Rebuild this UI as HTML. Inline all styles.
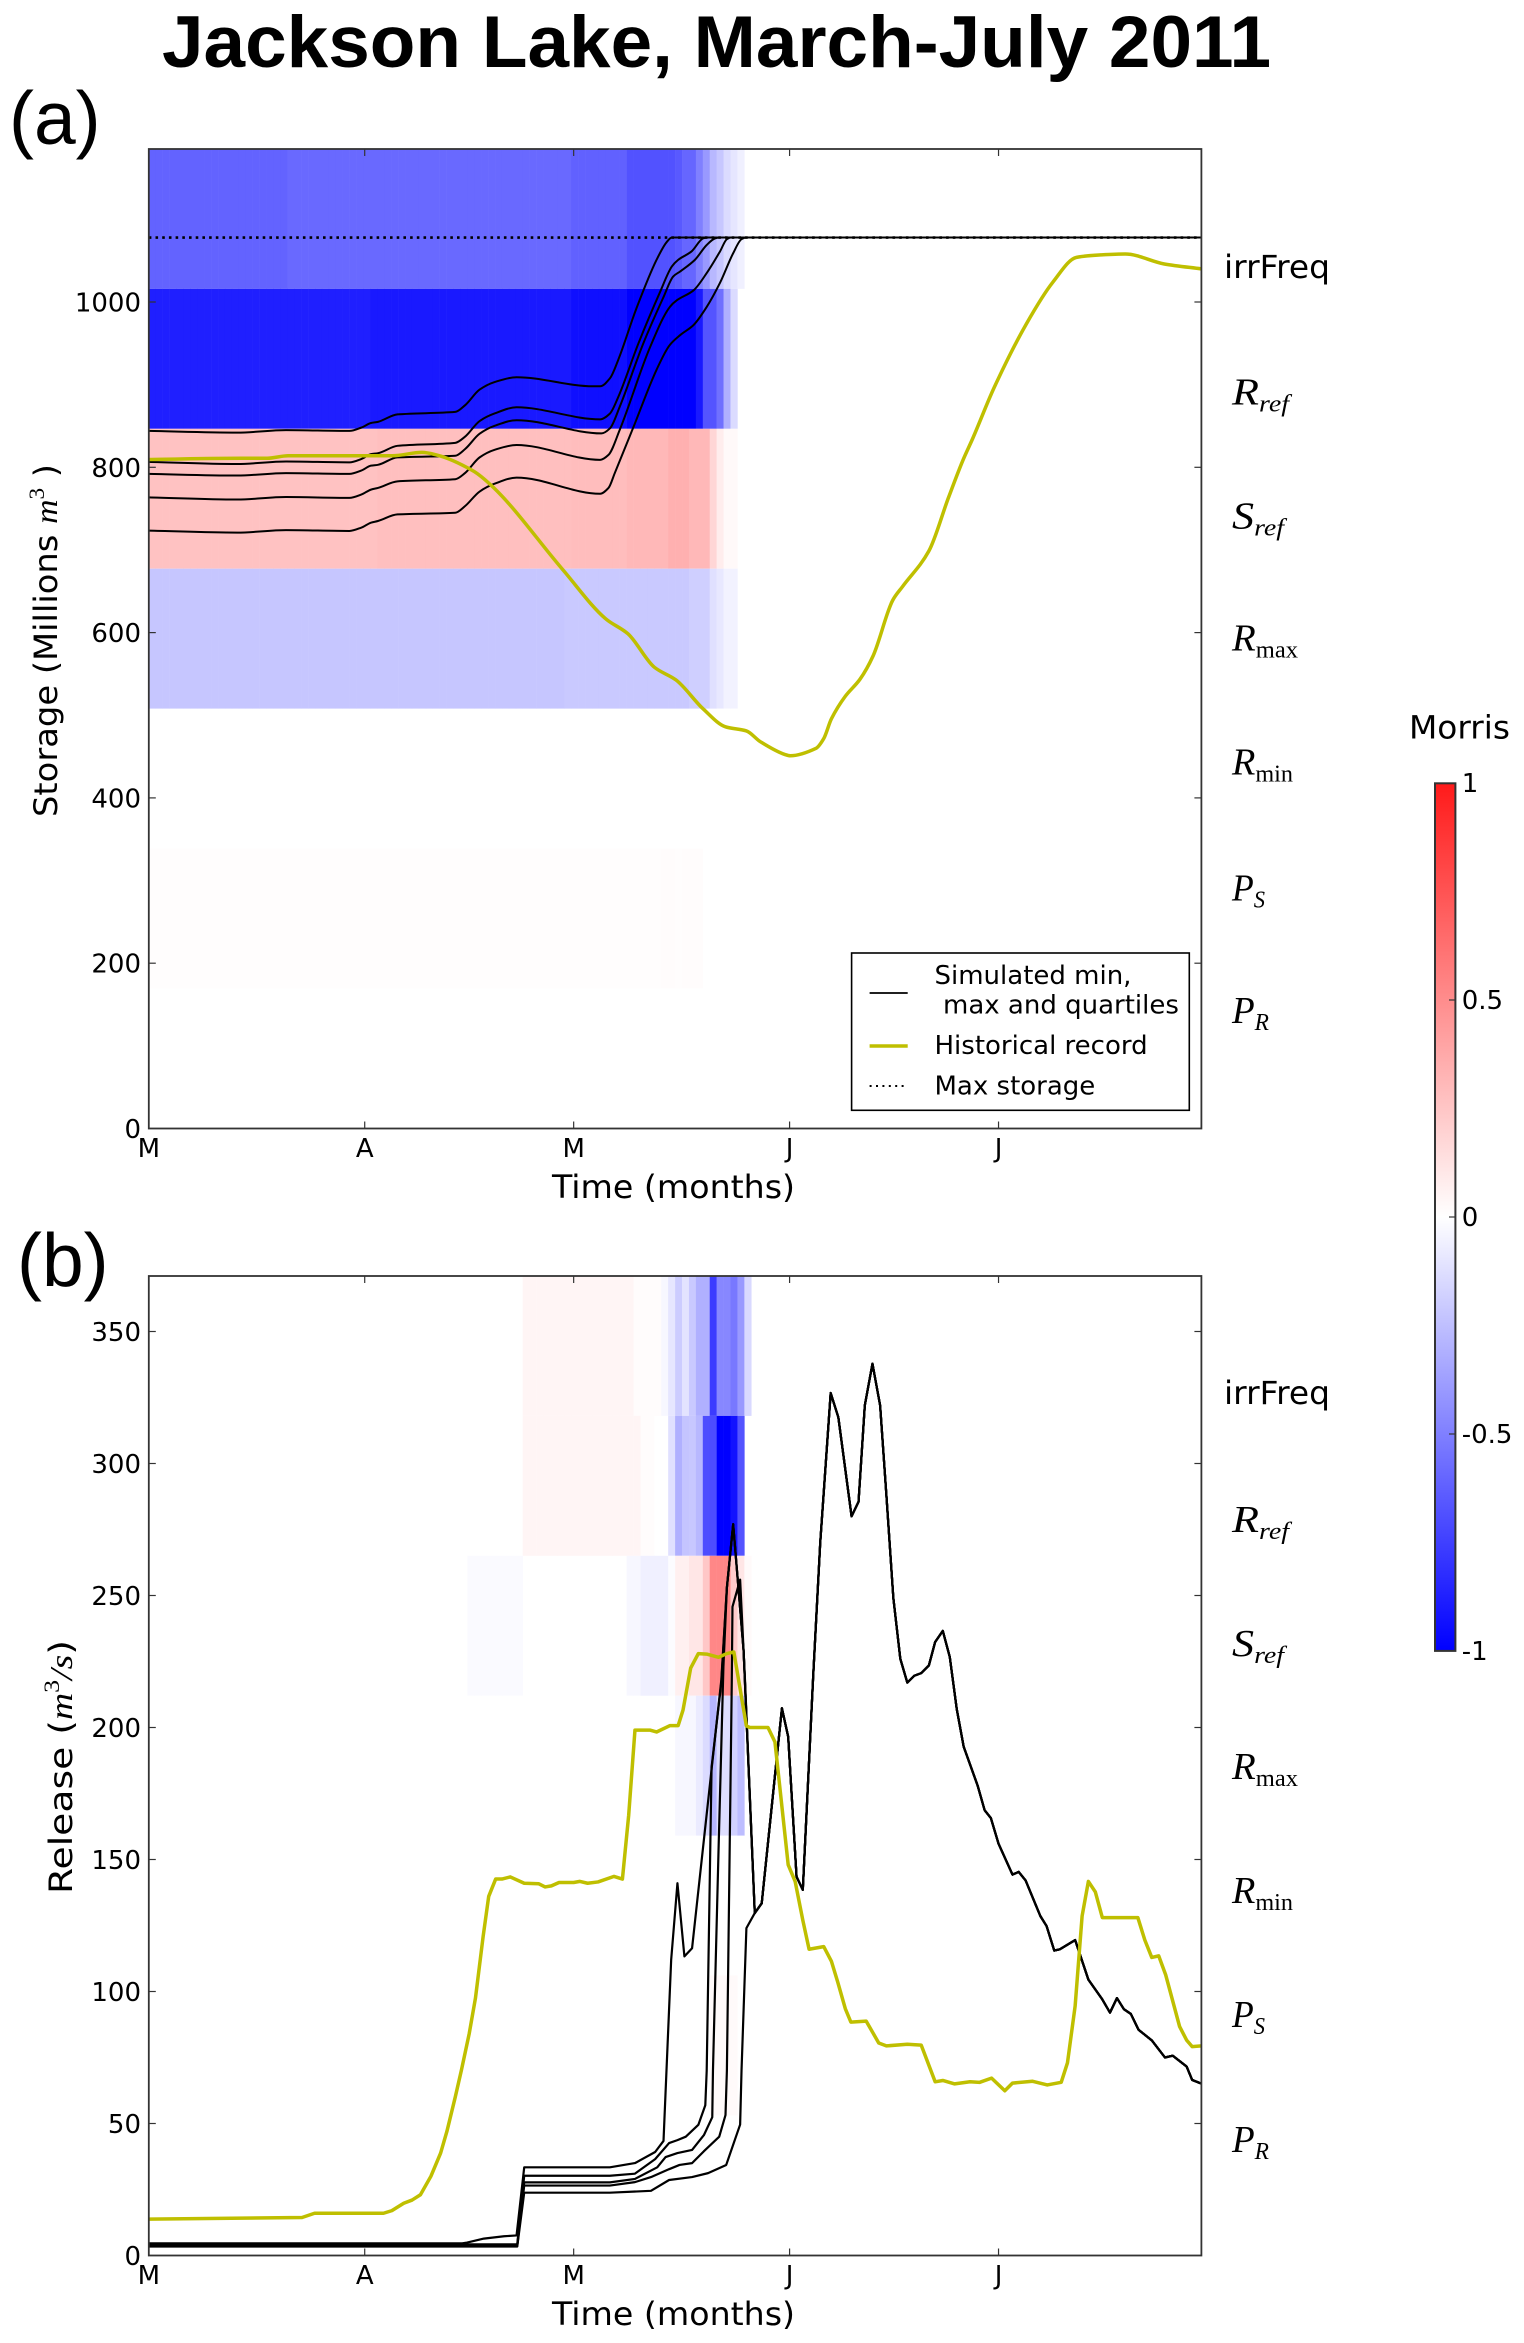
<!DOCTYPE html>
<html>
<head>
<meta charset="utf-8">
<title>Jackson Lake, March-July 2011</title>
<style>
html,body{margin:0;padding:0;background:#fff;width:1524px;height:2343px;overflow:hidden}
svg{display:block}
text{font-family:"DejaVu Sans","Liberation Sans",sans-serif;fill:#000}
.serif{font-family:"Liberation Serif",serif;font-style:italic}
.rm{font-family:"Liberation Serif",serif;font-style:normal}
</style>
</head>
<body>
<svg id="chart" xmlns="http://www.w3.org/2000/svg" width="1524" height="2343" viewBox="0 0 1524 2343">
  <defs>
    <clipPath id="clipA"><rect x="148.8" y="149" width="1052.6" height="979.5"/></clipPath>
    <clipPath id="clipB"><rect x="148.8" y="1276" width="1052.6" height="979.5"/></clipPath>
    <linearGradient id="morrisGrad" x1="0" y1="0" x2="0" y2="1">
      <stop offset="0" stop-color="#ff1a1a"/>
      <stop offset="0.5" stop-color="#ffffff"/>
      <stop offset="1" stop-color="#0000ff"/>
    </linearGradient>
  </defs>
  <rect width="1524" height="2343" fill="#fff"/>
  <g id="heatA" clip-path="url(#clipA)"></g>
  <g id="heatB" clip-path="url(#clipB)"></g>
  <g id="linesA" clip-path="url(#clipA)"></g>
  <g id="linesB" clip-path="url(#clipB)"></g>
  <g id="axes"></g>

  <text x="162" y="67" textLength="1109" lengthAdjust="spacingAndGlyphs" style="font-family:'Liberation Sans',sans-serif;font-weight:bold;font-size:73px">Jackson Lake, March-July 2011</text>
  <text x="9" y="144" style="font-family:'Liberation Sans',sans-serif;font-size:75px">(a)</text>
  <text x="17" y="1286" style="font-family:'Liberation Sans',sans-serif;font-size:75px">(b)</text>

  <text x="552" y="1198" font-size="32" textLength="243" lengthAdjust="spacingAndGlyphs">Time (months)</text>
  <text x="552" y="2325" font-size="32" textLength="243" lengthAdjust="spacingAndGlyphs">Time (months)</text>
  <text transform="translate(57,817) rotate(-90)" font-size="32" textLength="353" lengthAdjust="spacingAndGlyphs">Storage (Millions <tspan class="serif">m</tspan><tspan class="rm" font-size="22" dy="-13">3</tspan><tspan dy="13"> )</tspan></text>
  <text transform="translate(72,1894) rotate(-90)" font-size="32" textLength="254" lengthAdjust="spacingAndGlyphs">Release (<tspan class="serif">m</tspan><tspan class="rm" font-size="22" dy="-13">3</tspan><tspan dy="13" class="serif">/s</tspan>)</text>

  <g>
    <text x="1224" y="278" font-size="32" textLength="106" lengthAdjust="spacingAndGlyphs">irrFreq</text>
    <text class="serif" x="1232" y="404.5" font-size="38" textLength="57" lengthAdjust="spacingAndGlyphs">R<tspan font-size="24" dy="7">ref</tspan></text>
    <text class="serif" x="1232" y="528.5" font-size="38" textLength="52" lengthAdjust="spacingAndGlyphs">S<tspan font-size="24" dy="7">ref</tspan></text>
    <text class="serif" x="1232" y="650.5" font-size="38" textLength="66" lengthAdjust="spacingAndGlyphs">R<tspan class="rm" font-size="24" dy="7">max</tspan></text>
    <text class="serif" x="1232" y="774.5" font-size="38" textLength="61" lengthAdjust="spacingAndGlyphs">R<tspan class="rm" font-size="24" dy="7">min</tspan></text>
    <text class="serif" x="1232" y="900.5" font-size="38" textLength="33" lengthAdjust="spacingAndGlyphs">P<tspan font-size="24" dy="7">S</tspan></text>
    <text class="serif" x="1232" y="1023" font-size="38" textLength="37" lengthAdjust="spacingAndGlyphs">P<tspan font-size="24" dy="7">R</tspan></text>
  </g>
  <g>
    <text x="1224" y="1404" font-size="32" textLength="106" lengthAdjust="spacingAndGlyphs">irrFreq</text>
    <text class="serif" x="1232" y="1532" font-size="38" textLength="57" lengthAdjust="spacingAndGlyphs">R<tspan font-size="24" dy="7">ref</tspan></text>
    <text class="serif" x="1232" y="1656" font-size="38" textLength="52" lengthAdjust="spacingAndGlyphs">S<tspan font-size="24" dy="7">ref</tspan></text>
    <text class="serif" x="1232" y="1779" font-size="38" textLength="66" lengthAdjust="spacingAndGlyphs">R<tspan class="rm" font-size="24" dy="7">max</tspan></text>
    <text class="serif" x="1232" y="1903" font-size="38" textLength="61" lengthAdjust="spacingAndGlyphs">R<tspan class="rm" font-size="24" dy="7">min</tspan></text>
    <text class="serif" x="1232" y="2027" font-size="38" textLength="33" lengthAdjust="spacingAndGlyphs">P<tspan font-size="24" dy="7">S</tspan></text>
    <text class="serif" x="1232" y="2152" font-size="38" textLength="37" lengthAdjust="spacingAndGlyphs">P<tspan font-size="24" dy="7">R</tspan></text>
  </g>

  <g>
    <rect x="851.6" y="953" width="337.7" height="157.3" fill="#fff" stroke="#000" stroke-width="1.6"/>
    <line x1="869.6" y1="993" x2="907.7" y2="993" stroke="#000" stroke-width="1.8"/>
    <line x1="869.6" y1="1046" x2="907.7" y2="1046" stroke="#bfbf00" stroke-width="3.4"/>
    <line x1="869.6" y1="1086" x2="907.7" y2="1086" stroke="#000" stroke-width="2" stroke-dasharray="2 4.4"/>
    <text x="934.5" y="984" font-size="26">Simulated min,</text>
    <text x="943" y="1013.5" font-size="26">max and quartiles</text>
    <text x="934.5" y="1054" font-size="26">Historical record</text>
    <text x="934.5" y="1094.5" font-size="26">Max storage</text>
  </g>

  <g>
    <text x="1409" y="738.6" font-size="32" textLength="101" lengthAdjust="spacingAndGlyphs">Morris</text>
    <rect x="1435" y="783.3" width="20.4" height="867.6" fill="url(#morrisGrad)" stroke="#333" stroke-width="2"/>
    <g id="cbTicks"></g>
  </g>
</svg>
<script>
// Axis tick data
const monthDays = [0, 31, 61, 92, 122];
const monthLabels = ['M', 'A', 'M', 'J', 'J'];
const storageTicks = [0, 200, 400, 600, 800, 1000];
const releaseTicks = [0, 50, 100, 150, 200, 250, 300, 350];
const colorbarTicks = [1, 0.5, 0, -0.5, -1];
const maxStorage = [1078];

// Storage panel: Morris index by day column, one array per parameter
const storageIrrFreq = [
-.61,-.61,-.61,-.61,-.61,-.61,-.61,-.61,-.61,-.61,
-.61,-.61,-.61,-.61,-.61,-.61,-.61,-.61,-.61,-.61,
-.59,-.59,-.59,-.59,-.59,-.59,-.59,-.59,-.59,-.59,
-.59,-.59,-.59,-.59,-.59,-.59,-.59,-.59,-.59,-.59,
-.59,-.59,-.59,-.59,-.59,-.59,-.59,-.59,-.59,-.59,
-.59,-.59,-.59,-.59,-.59,-.59,-.59,-.59,-.59,-.59,
-.59,-.62,-.62,-.62,-.62,-.62,-.62,-.62,-.62,-.68,
-.68,-.68,-.68,-.68,-.68,-.68,-.65,-.6,-.6,-.5,
-.4,-.28,-.22,-.14,-.1,-.06];
const storageRref = [
-.88,-.88,-.88,-.88,-.88,-.88,-.88,-.88,-.88,-.88,
-.88,-.88,-.88,-.88,-.88,-.88,-.88,-.88,-.88,-.88,
-.88,-.88,-.88,-.88,-.88,-.88,-.88,-.88,-.88,-.88,
-.88,-.88,-.9,-.9,-.9,-.9,-.9,-.9,-.9,-.9,
-.9,-.9,-.9,-.9,-.9,-.9,-.9,-.9,-.9,-.9,
-.9,-.9,-.9,-.9,-.9,-.9,-.9,-.9,-.9,-.9,
-.9,-.94,-.94,-.94,-.94,-.94,-.94,-.94,-.94,-1,
-1,-1,-1,-1,-1,-1,-1,-1,-1,-.9,
-.67,-.67,-.56,-.31,-.14];
const storageSref = [
.24,.24,.24,.24,.24,.24,.24,.24,.24,.24,
.24,.24,.24,.24,.24,.24,.24,.24,.24,.24,
.24,.24,.24,.24,.24,.24,.24,.24,.24,.24,
.24,.24,.24,.25,.25,.25,.25,.25,.25,.25,
.25,.25,.25,.25,.25,.25,.25,.25,.25,.25,
.25,.25,.25,.25,.25,.25,.25,.25,.25,.25,
.25,.26,.26,.26,.26,.26,.26,.26,.26,.28,
.28,.28,.28,.28,.28,.31,.31,.31,.28,.28,
.28,.16,.07,.025,.025];
const storageRmax = [
-.225,-.225,-.225,-.225,-.225,-.225,-.225,-.225,-.225,-.225,
-.225,-.225,-.225,-.225,-.225,-.225,-.225,-.225,-.225,-.225,
-.225,-.225,-.225,-.225,-.225,-.225,-.225,-.225,-.225,-.225,
-.225,-.225,-.225,-.225,-.225,-.225,-.225,-.225,-.225,-.225,
-.225,-.225,-.225,-.225,-.225,-.225,-.225,-.225,-.225,-.225,
-.225,-.225,-.225,-.225,-.225,-.225,-.225,-.225,-.225,-.225,
-.21,-.21,-.21,-.21,-.21,-.21,-.21,-.21,-.21,-.21,
-.21,-.21,-.21,-.21,-.21,-.21,-.21,-.21,-.19,-.19,
-.19,-.12,-.09,-.05,-.05];
const storageRmin = [];
const storagePs = [
.008,.008,.008,.008,.008,.008,.008,.008,.008,.008,
.008,.008,.008,.008,.008,.008,.008,.008,.008,.008,
.008,.008,.008,.008,.008,.008,.008,.008,.008,.008,
.008,.008,.008,.008,.008,.008,.008,.008,.008,.008,
.008,.008,.008,.008,.008,.008,.008,.008,.008,.008,
.008,.008,.008,.008,.008,.008,.008,.008,.008,.008,
.008,.008,.008,.008,.008,.008,.008,.008,.008,.008,
.008,.008,.008,.008,.012,.012,.008,.012,.012,.012];
const storagePr = [];

// Release panel: Morris index by day column
const releaseIrrFreq = [
0,0,0,0,0,0,0,0,0,0, 0,0,0,0,0,0,0,0,0,0,
0,0,0,0,0,0,0,0,0,0, 0,0,0,0,0,0,0,0,0,0,
0,0,0,0,0,0,0,0,0,0,
0,0,0,0,.04,.04,.04,.04,.04,.04,
.04,.04,.04,.04,.04,.04,.04,.04,.04,.04,
.01,.01,.01,.01,-.03,-.1,-.2,-.11,-.21,-.31,
-.31,-.77,-.47,-.47,-.53,-.4,-.15];
const releaseRref = [
0,0,0,0,0,0,0,0,0,0, 0,0,0,0,0,0,0,0,0,0,
0,0,0,0,0,0,0,0,0,0, 0,0,0,0,0,0,0,0,0,0,
0,0,0,0,0,0,0,0,0,0,
0,0,0,0,.04,.04,.04,.04,.04,.04,
.04,.04,.04,.04,.04,.04,.04,.04,.04,.04,
.04,.01,.01,0,0,-.12,-.31,-.23,-.22,-.28,
-.7,-.7,-1,-1,-.93,-.67];
const releaseSref = [
0,0,0,0,0,0,0,0,0,0, 0,0,0,0,0,0,0,0,0,0,
0,0,0,0,0,0,0,0,0,0, 0,0,0,0,0,0,0,0,0,0,
0,0,0,0,0,0,-.02,-.02,-.02,-.02,
-.02,-.02,-.02,-.02,0,0,0,0,0,0,
0,0,0,0,0,0,0,0,0,-.03,
-.03,-.06,-.06,-.06,-.06,-.01,.06,.06,.1,.1,
.22,.47,.47,.47,.2,.1,.02];
const releaseRmax = [
0,0,0,0,0,0,0,0,0,0, 0,0,0,0,0,0,0,0,0,0,
0,0,0,0,0,0,0,0,0,0, 0,0,0,0,0,0,0,0,0,0,
0,0,0,0,0,0,0,0,0,0, 0,0,0,0,0,0,0,0,0,0,
0,0,0,0,0,0,0,0,0,0,
0,0,0,0,0,0,-.03,-.03,-.03,-.08,
-.14,-.29,-.13,-.13,-.18,-.26];
const releaseRmin = [];
const releasePs = [
0,0,0,0,0,0,0,0,0,0, 0,0,0,0,0,0,0,0,0,0,
0,0,0,0,0,0,0,0,0,0, 0,0,0,0,0,0,0,0,0,0,
0,0,0,0,0,0,0,0,0,0, 0,0,0,0,0,0,0,0,0,0,
0,0,0,0,0,0,0,0,0,0, 0,0,0,0,0,0,0,0,0,0,
0,.02,.02,.02,.02];
const releasePr = [];

// Storage series (day, millions m3)
const storageDays1 = [0,12.7,19.7,28.8,30.5,31.9,32.9,35.7,44,45.4,47.5,49.6,52.8,63.8,64.8,66.2,67.4,70,72.9,74.4,75.1,151.2];
const storageMax = [844,842,845,844,848,853.6,855,864,867,875,894,903,909,898,898,907.6,930,992,1051,1073,1078,1078];
const storageDays2 = [0,12.7,19.7,28.8,30.5,31.9,32.9,35.7,44,45.4,47.5,49.6,52.8,64.8,66.2,67.4,70.3,73.4,75.1,76,77.9,79.6,80.2,151.2];
const storageQ3 = [806.6,804,807,806,810,816,817,826,829.6,837,856,865,872.6,858,865,885,950,1012,1043,1051,1061,1077,1078,1078];
const storageDays3 = [0,12.7,19.7,28.8,30.5,31.9,32.9,35.7,44,45.4,47.5,49.6,52.8,65,66.2,67.6,71,73.9,75.3,76.3,78.4,80.1,81.3,81.9,151.2];
const storageMedian = [792,790,793,792,796,802,803,812,814,822,840.6,850,857,841,847,873,950,1006,1031,1037,1051,1069,1077,1078,1078];
const storageDays4 = [0,12.7,19.7,28.8,30.5,31.9,32.9,35.7,44,45.4,47.5,49.6,52.8,64.8,66,67.6,72,74.8,75.8,78.2,80.1,82,83,83.6,151.2];
const storageQ1 = [763.6,761,764,763,767,773,775,783,785.6,793,812,821,827,809,815,845,946,994,1002,1014,1035,1061,1076,1078,1078];
const storageDays5 = [0,12.7,19.7,28.8,30.5,31.9,32.9,35.7,44,45.4,47.5,49.6,52.8,64.8,66,66.9,69.6,72.9,74.8,76.3,78.2,80.1,82,83.9,85.1,85.8,151.2];
const storageMin = [723.4,721,724,723,727,733,735,743,745,753,770.7,780,787.5,768,775,793,849,918,948,960,972,994,1023,1059,1076,1078,1078];
const storageHistDays = [0,13.4,17,20,28,35,39.2,41.3,46.5,49.6,59.4,65.6,68.8,72.6,75.7,79.6,82.8,85.8,87.8,91.3,92.1,95.8,96.9,98,100,102.1,104,106.8,108.2,112,114.8,116.9,118.3,121.4,126,129.8,133.2,136.7,140.2,145.8,151.2];
const storageHist = [809.5,811,811,814,814,814,818,815,796,774.6,676.5,616.7,598.5,558,542.6,507.6,486,481,468,452.6,451,460,471.7,495.6,523,543.5,572,639,655.5,698.7,763,808.8,835,897,973.6,1024,1054,1057,1058,1046,1040];

// Release series (day, m3/s). All five runs share the tail after the peak.
const releaseTailDays = [87,88,90.9,91.8,93,93.9,95.4,96.4,97.9,99,100.9,101.9,102.8,103.9,105,105.9,106.9,107.9,108.9,109.9,110.9,112,112.9,114,115,116,117,119,120,120.9,122,124,124.9,125.9,128,128.9,130,130.8,133,134.9,136.9,138,139,140,141,142.1,144,145.9,147,149,149.8,151.2];
const releaseTail = [129.7,133.4,207.3,196.5,143.5,138.5,220,270,326.7,317.5,280,285.5,322,337.8,322,288,249,226,217,219.6,220.6,223.5,232.4,236.6,226.7,207,192.7,178,168.7,165.7,156,144.3,145.3,142,128.6,124.8,115.5,116,119.5,104.5,97,92,97.5,93.3,91.5,85.5,81.5,75,75.7,71.6,66.5,65];
const releaseDays1 = [0,45,45.7,48.1,51,52.8,53.9,66.2,69.8,72.7,73.9,75,75.9,76.9,78,82.2,83,83.9,85.4];
const releaseMax = [4.6,4.6,4.9,6.4,7.3,7.6,33.4,33.4,35,39.2,43.4,112,141,113.3,116.4,218,253,277,229];
const releaseDays2 = [0,52.9,53.9,66.2,69.8,72.7,74.7,75.9,77.1,78.9,79.9,80.1,80.8,82.2,83,83.9,85.4];
const releaseQ3 = [4.2,4.2,30.2,30.2,31,36.5,42.6,43.7,45,49.5,56.9,70,185,217,253,277,229];
const releaseDays3 = [0,52.9,53.9,66.2,69.8,73,74.2,75.9,78,79.7,80.9,81,81.8,82.5,83,83.9,85.4];
const releaseMedian = [3.9,3.9,27.7,27.7,29,33.4,37.3,38.8,40,45.6,52.4,70,153.6,223,253,277,229];
const releaseDays4 = [0,52.9,53.9,66.2,69.8,72.1,74.7,76.2,78,79.7,81.9,82.8,83,83.7,83.8,84.9,85.6];
const releaseQ1 = [3.6,3.6,26.5,26.5,27.8,29.7,32.7,34.3,35,39.5,45,53.2,70,217,245.7,256,218];
const releaseDays5 = [0,52.9,53.9,66.2,72.1,74.7,78,80.3,82.9,84.9,85.1,85.8];
const releaseMin = [3.4,3.4,23.8,23.8,24.5,28.6,29.7,31.2,34.3,49.6,70,124];
const releaseHistDays = [0,22,23.8,33.7,34.9,36.6,37.8,39,40.5,41.9,42.8,44,44.9,46,46.9,48,48.8,49.8,50.7,51.9,53.9,56,56.9,57.8,58.9,61,61.9,63,64.5,66.8,68,68.9,69.8,72,72.9,74.8,76,76.7,77.8,78.9,80.1,81.8,83,84,85.8,86.3,88.9,89.9,91.8,92.8,93.9,94.8,96.9,98,98.9,100,100.8,103,104.8,105.9,108.9,110.9,112.9,114,115.7,117.9,119.3,121,122.9,124,126.9,129,131,131.9,133,134,134.9,135.9,136.9,142,143,144,145,146,148,149,149.8,151.2];
const releaseHist = [13.8,14.4,16,16,17,19.8,21,23,30,38.8,47,60,70.4,84,97.5,120.8,136,142.6,142.6,143.4,141,140.8,139.6,140,141.3,141.3,141.7,141,141.5,143.6,142.6,166.8,199,199,198.3,200.7,200.7,206.6,222.5,228,227.8,226.6,228,228.6,200.6,200,200,194.5,148,141.7,127,116,117,111.5,103.7,93.5,88.4,88.8,80.5,79.4,80,79.7,65.8,66.3,65,65.8,65.6,67.2,62.4,65.3,66,64.6,65.6,73,94.5,128.6,141.7,137.7,128,128,119.5,112.9,113.5,106.3,86.7,81.6,79.1,79.4];

const SVGNS = 'http://www.w3.org/2000/svg';
const YELLOW = '#bfbf00';

// Axis functions
function xDay(d) { return 148.8 + d * 6.965; }
function xCell(i) { return 148.8 + i * 6.925; }
function yStorage(v) { return 1128.5 - v * 0.8265; }
function yRelease(v) { return 2255.5 - v * 2.64; }
function yColorbar(v) { return 1217 - v * 434; }

function bwr(v) {
  const c = Math.round(255 * (1 - Math.min(1, Math.abs(v))));
  return v < 0 ? 'rgb(' + c + ',' + c + ',255)' : 'rgb(255,' + c + ',' + c + ')';
}

function drawHeat(groupId, rows, top, rowH) {
  const g = document.getElementById(groupId);
  rows.forEach(function (row, r) {
    row.forEach(function (v, i) {
      if (v === 0) return;
      const cell = document.createElementNS(SVGNS, 'rect');
      
      
      cell.setAttribute('x', xCell(i).toFixed(2));
      cell.setAttribute('y', (top + r * rowH).toFixed(2));
      cell.setAttribute('width', '7.2');
      cell.setAttribute('height', rowH.toFixed(2));
      cell.setAttribute('fill', bwr(v));
      g.appendChild(cell);
    });
  });
}

// Builds a straight or monotone-smoothed path through the points
function pathData(xs, ys, smooth) {
  const f = function (n) { return n.toFixed(2); };
  let d = 'M' + f(xs[0]) + ' ' + f(ys[0]);
  if (!smooth) {
    for (let i = 1; i < xs.length; i++) d += 'L' + f(xs[i]) + ' ' + f(ys[i]);
    return d;
  }
  const slopes = [];
  for (let i = 0; i < xs.length - 1; i++) slopes.push((ys[i + 1] - ys[i]) / (xs[i + 1] - xs[i]));
  const tan = xs.map(function (_, i) {
    if (i === 0) return slopes[0];
    if (i === xs.length - 1) return slopes[i - 1];
    const a = slopes[i - 1], b = slopes[i];
    return a * b <= 0 ? 0 : 2 * a * b / (a + b);
  });
  for (let i = 0; i < xs.length - 1; i++) {
    const h = (xs[i + 1] - xs[i]) / 3;
    d += 'C' + f(xs[i] + h) + ' ' + f(ys[i] + tan[i] * h) + ' ' +
      f(xs[i + 1] - h) + ' ' + f(ys[i + 1] - tan[i + 1] * h) + ' ' +
      f(xs[i + 1]) + ' ' + f(ys[i + 1]);
  }
  return d;
}

function drawLine(groupId, name, days, values, yFn, color, width, dash, smooth) {
  const pl = document.createElementNS(SVGNS, 'path');
  
  
  pl.setAttribute('d', pathData(days.map(xDay), values.map(yFn), smooth));
  pl.setAttribute('fill', 'none');
  pl.setAttribute('stroke', color);
  pl.setAttribute('stroke-width', width);
  pl.setAttribute('stroke-linejoin', 'round');
  if (dash) pl.setAttribute('stroke-dasharray', dash);
  document.getElementById(groupId).appendChild(pl);
}

function addTick(g, name, x1, y1, x2, y2) {
  const t = document.createElementNS(SVGNS, 'line');
  
  
  t.setAttribute('x1', x1);
  t.setAttribute('y1', y1);
  t.setAttribute('x2', x2);
  t.setAttribute('y2', y2);
  t.setAttribute('stroke', '#333');
  t.setAttribute('stroke-width', '1.2');
  g.appendChild(t);
}

function addLabel(g, name, x, y, str, anchor) {
  const t = document.createElementNS(SVGNS, 'text');
  
  
  t.setAttribute('x', x);
  t.setAttribute('y', y);
  t.setAttribute('font-size', '26');
  t.setAttribute('text-anchor', anchor);
  t.textContent = str;
  g.appendChild(t);
}

function drawAxes(top, bottom, yTicks, yFn) {
  const g = document.getElementById('axes');
  const left = 148.8, right = 1201.4;
  monthDays.forEach(function (d, k) {
    const x = xDay(d);
    if (d > 0) {
      addTick(g, 'x-tick', x, bottom, x, bottom - 7);
      addTick(g, 'x-tick', x, top, x, top + 7);
    }
    addLabel(g, 'x-tick-label', x, bottom + 28.5, monthLabels[k], 'middle');
  });
  yTicks.forEach(function (v) {
    const y = yFn(v);
    if (v > 0) {
      addTick(g, 'y-tick', left, y, left + 7, y);
      addTick(g, 'y-tick', right, y, right - 7, y);
    }
    addLabel(g, 'y-tick-label', 141, y + 9.5, String(v), 'end');
  });
  const frame = document.createElementNS(SVGNS, 'rect');
  
  
  frame.setAttribute('x', left);
  frame.setAttribute('y', top);
  frame.setAttribute('width', right - left);
  frame.setAttribute('height', bottom - top);
  frame.setAttribute('fill', 'none');
  frame.setAttribute('stroke', '#333');
  frame.setAttribute('stroke-width', '1.8');
  g.appendChild(frame);
}

drawHeat('heatA', [storageIrrFreq, storageRref, storageSref, storageRmax, storageRmin, storagePs, storagePr], 149, 139.9);
drawHeat('heatB', [releaseIrrFreq, releaseRref, releaseSref, releaseRmax, releaseRmin, releasePs, releasePr], 1276, 139.9);

drawLine('linesA', 'storage-simulated-max', storageDays1, storageMax, yStorage, '#000', 2, null, true);
drawLine('linesA', 'storage-simulated-q3', storageDays2, storageQ3, yStorage, '#000', 2, null, true);
drawLine('linesA', 'storage-simulated-median', storageDays3, storageMedian, yStorage, '#000', 2, null, true);
drawLine('linesA', 'storage-simulated-q1', storageDays4, storageQ1, yStorage, '#000', 2, null, true);
drawLine('linesA', 'storage-simulated-min', storageDays5, storageMin, yStorage, '#000', 2, null, true);
drawLine('linesA', 'storage-max-capacity', [0, 151.2], [maxStorage[0], maxStorage[0]], yStorage, '#000', 2.6, '2.6 4.1', false);
drawLine('linesA', 'storage-historical', storageHistDays, storageHist, yStorage, YELLOW, 3.5, null, true);

drawLine('linesB', 'release-simulated-max', releaseDays1.concat(releaseTailDays), releaseMax.concat(releaseTail), yRelease, '#000', 2.2, null, false);
drawLine('linesB', 'release-simulated-q3', releaseDays2.concat(releaseTailDays), releaseQ3.concat(releaseTail), yRelease, '#000', 2.2, null, false);
drawLine('linesB', 'release-simulated-median', releaseDays3.concat(releaseTailDays), releaseMedian.concat(releaseTail), yRelease, '#000', 2.2, null, false);
drawLine('linesB', 'release-simulated-q1', releaseDays4.concat(releaseTailDays), releaseQ1.concat(releaseTail), yRelease, '#000', 2.2, null, false);
drawLine('linesB', 'release-simulated-min', releaseDays5.concat(releaseTailDays), releaseMin.concat(releaseTail), yRelease, '#000', 2.2, null, false);
drawLine('linesB', 'release-historical', releaseHistDays, releaseHist, yRelease, YELLOW, 3.5, null, false);

drawAxes(149, 1128.5, storageTicks, yStorage);
drawAxes(1276, 2255.5, releaseTicks, yRelease);

const cbGroup = document.getElementById('cbTicks');
colorbarTicks.forEach(function (v) {
  const y = yColorbar(v);
  if (v !== 1 && v !== -1) addTick(cbGroup, 'colorbar-tick', 1449, y, 1455.4, y);
  addLabel(cbGroup, 'colorbar-tick-label', 1461.7, y + 9, String(v), 'start');
});
</script>
</body>
</html>
